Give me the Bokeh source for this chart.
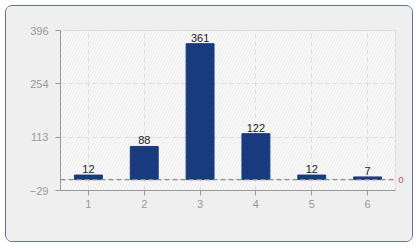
from bokeh.plotting import figure
from bokeh.models import (Range1d, FixedTicker, LinearAxis, ColumnDataSource,
                          LabelSet, Span, BoxAnnotation)
from bokeh.core.properties import value
from bokeh.embed import file_html
from bokeh.resources import INLINE

categories = [1, 2, 3, 4, 5, 6]
values = [12, 88, 361, 122, 12, 7]
y_ticks = [-29, 113, 254, 396]
ref_value = 0

FONT = "Liberation Sans"

src = ColumnDataSource(dict(x=categories, top=values, label=[str(v) for v in values]))

p = figure(width=408, height=237, output_backend="svg", toolbar_location=None,
           x_range=Range1d(0.5, 6.5), y_range=Range1d(min(y_ticks), max(y_ticks)),
           min_border_left=54, min_border_right=19, min_border_top=24, min_border_bottom=53)
p.styles = {"margin-left": "5px", "margin-top": "5px", "border": "1px solid #5f6fae",
            "border-radius": "7px", "overflow": "hidden", "background": "#efefef"}
p.border_fill_color = "#efefef"
p.background_fill_color = "#f9f9f9"
p.outline_line_color = "#dddddd"

hatch = BoxAnnotation(fill_color=None, line_color=None, hatch_pattern="/",
                      hatch_color="#ebebeb", hatch_scale=6, hatch_weight=1, level="image")
p.add_layout(hatch)

p.vbar(x="x", top="top", bottom=0, width=0.5, source=src, color="#1a3a80")

p.xaxis.ticker = FixedTicker(ticks=categories)
p.yaxis.ticker = FixedTicker(ticks=y_ticks)
for ax in (p.xaxis[0], p.yaxis[0]):
    ax.axis_line_color = "#999999"
    ax.major_tick_line_color = "#999999"
    ax.major_tick_out = 5
    ax.major_tick_in = 0
    ax.minor_tick_line_color = None
    ax.major_label_text_color = "#999999"
    ax.major_label_text_font = FONT
    ax.major_label_text_font_size = "11px"
p.yaxis.major_label_standoff = 7
p.xaxis.major_label_standoff = 4

p.xgrid.ticker = FixedTicker(ticks=categories)
p.ygrid.ticker = FixedTicker(ticks=y_ticks)
for g in (p.xgrid[0], p.ygrid[0]):
    g.grid_line_color = "#dedede"
    g.grid_line_dash = "5 3"

zero = Span(location=ref_value, dimension="width", line_color="#c0707e",
            line_dash="5 3", line_width=1.3)
p.add_layout(zero)

rax = LinearAxis(ticker=FixedTicker(ticks=[ref_value]), axis_line_color=None,
                 major_tick_line_color=None, minor_tick_line_color=None,
                 major_tick_out=0, major_tick_in=0,
                 major_label_text_color="#b85060", major_label_text_font=FONT,
                 major_label_text_font_size="9px", major_label_standoff=3)
p.add_layout(rax, "right")

labels = LabelSet(x="x", y="top", text="label", source=src, text_align="center",
                  text_baseline="bottom", y_offset=2, text_color="#222222",
                  text_font=value(FONT), text_font_size="11px")
p.add_layout(labels)

open("out.html", "w").write(file_html(p, INLINE))
